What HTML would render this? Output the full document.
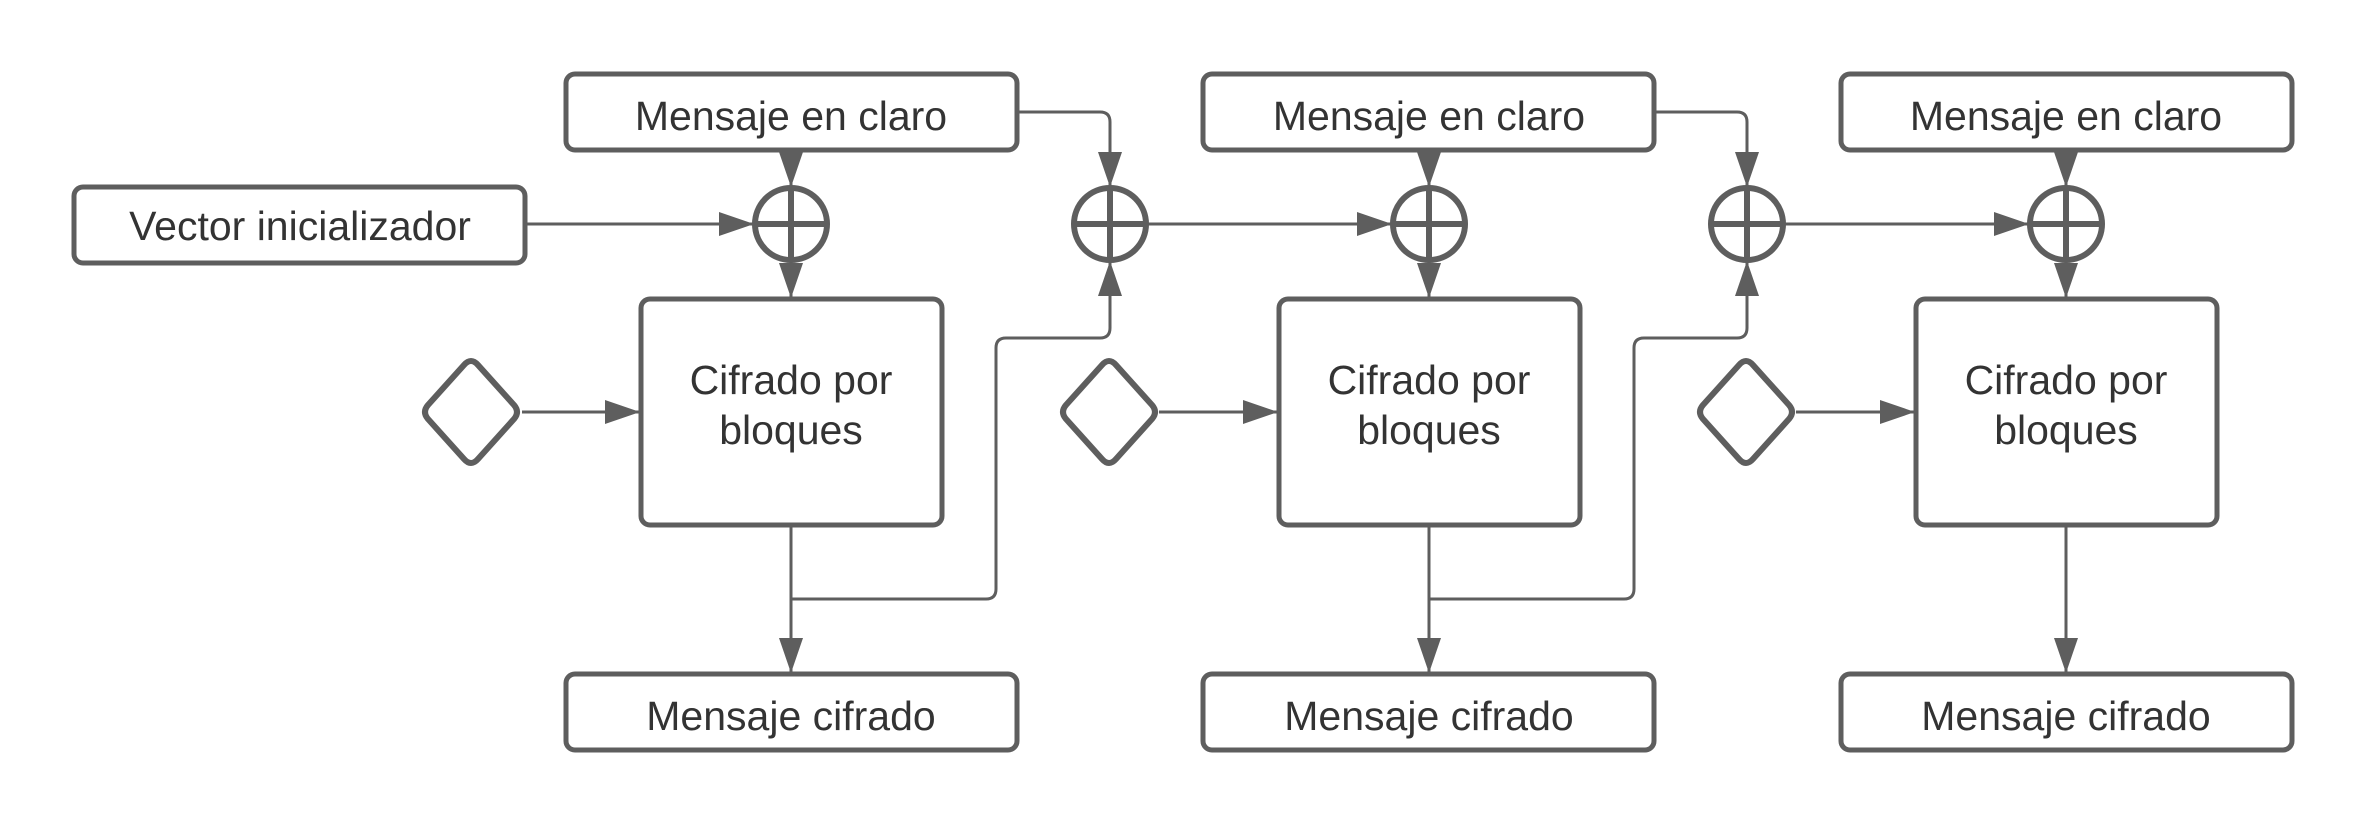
<!DOCTYPE html>
<html><head><meta charset="utf-8"><style>html,body{margin:0;padding:0;background:#fff}svg{display:block}</style></head>
<body>
<svg width="2366" height="825" viewBox="0 0 2366 825" xmlns="http://www.w3.org/2000/svg">
<defs>
<marker id="a" markerWidth="36" markerHeight="24" refX="35" refY="12" orient="auto" markerUnits="userSpaceOnUse">
<path d="M0,0 L35,12 L0,24 Z" fill="#5e5e5e"/>
</marker>
</defs>
<g fill="#fff" stroke="#5e5e5e" stroke-width="5">
<rect x="74" y="187" width="451" height="76" rx="9"/>
<rect x="566" y="74" width="451" height="76" rx="9"/>
<rect x="1203" y="74" width="451" height="76" rx="9"/>
<rect x="1841" y="74" width="451" height="76" rx="9"/>
<rect x="641" y="299" width="301" height="226" rx="9"/>
<rect x="1279" y="299" width="301" height="226" rx="9"/>
<rect x="1916" y="299" width="301" height="226" rx="9"/>
<rect x="566" y="674" width="451" height="76" rx="9"/>
<rect x="1203" y="674" width="451" height="76" rx="9"/>
<rect x="1841" y="674" width="451" height="76" rx="9"/>
</g>
<g fill="#fff" stroke="#5e5e5e" stroke-width="6" stroke-linejoin="round">
<path d="M464,365 Q471,357 478,365 L514,405 Q520,412 514,419 L478,459 Q471,467 464,459 L428,419 Q422,412 428,405 Z"/>
<path d="M1102,365 Q1109,357 1116,365 L1152,405 Q1158,412 1152,419 L1116,459 Q1109,467 1102,459 L1066,419 Q1060,412 1066,405 Z"/>
<path d="M1739,365 Q1746,357 1753,365 L1789,405 Q1795,412 1789,419 L1753,459 Q1746,467 1739,459 L1703,419 Q1697,412 1703,405 Z"/>
</g>
<g fill="none" stroke="#5e5e5e" stroke-width="6">
<circle cx="791" cy="224" r="36"/><path d="M791,188 V260 M755,224 H827"/>
<circle cx="1110" cy="224" r="36"/><path d="M1110,188 V260 M1074,224 H1146"/>
<circle cx="1429" cy="224" r="36"/><path d="M1429,188 V260 M1393,224 H1465"/>
<circle cx="1747" cy="224" r="36"/><path d="M1747,188 V260 M1711,224 H1783"/>
<circle cx="2066" cy="224" r="36"/><path d="M2066,188 V260 M2030,224 H2102"/>
</g>
<g fill="none" stroke="#5e5e5e" stroke-width="3" marker-end="url(#a)">
<path d="M525,224 H754"/>
<path d="M791,150 V187"/><path d="M791,261 V298"/>
<path d="M1429,150 V187"/><path d="M1429,261 V298"/>
<path d="M2066,150 V187"/><path d="M2066,261 V298"/>
<path d="M1017,112 H1100 Q1110,112 1110,122 V187"/>
<path d="M1654,112 H1737 Q1747,112 1747,122 V187"/>
<path d="M1146,224 H1392"/>
<path d="M1783,224 H2029"/>
<path d="M522,412 H640"/>
<path d="M1159,412 H1278"/>
<path d="M1796,412 H1915"/>
<path d="M791,525 V673"/>
<path d="M1429,525 V673"/>
<path d="M2066,525 V673"/>
<path d="M791,599 H986 Q996,599 996,589 V348 Q996,338 1006,338 H1100 Q1110,338 1110,328 V261"/>
<path d="M1429,599 H1624 Q1634,599 1634,589 V348 Q1634,338 1644,338 H1737 Q1747,338 1747,328 V261"/>
</g>
<g font-family="Liberation Sans, sans-serif" font-size="41" fill="#333" text-anchor="middle">
<text x="300" y="240">Vector inicializador</text>
<text x="791" y="130">Mensaje en claro</text>
<text x="1429" y="130">Mensaje en claro</text>
<text x="2066" y="130">Mensaje en claro</text>
<text x="791" y="394">Cifrado por</text><text x="791" y="444">bloques</text>
<text x="1429" y="394">Cifrado por</text><text x="1429" y="444">bloques</text>
<text x="2066" y="394">Cifrado por</text><text x="2066" y="444">bloques</text>
<text x="791" y="730">Mensaje cifrado</text>
<text x="1429" y="730">Mensaje cifrado</text>
<text x="2066" y="730">Mensaje cifrado</text>
</g>
</svg>
</body></html>
